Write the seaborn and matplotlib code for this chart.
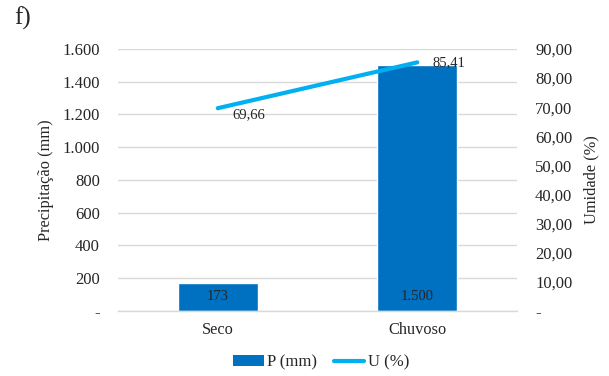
import matplotlib
matplotlib.use("Agg")
import matplotlib.pyplot as plt
from matplotlib.ticker import FuncFormatter, FixedLocator
from matplotlib.patches import Patch
from matplotlib.lines import Line2D
import seaborn as sns
import pandas as pd

# Season data
periodos = ["Seco", "Chuvoso"]
precipitacao = [173, 1500]        # P (mm)
umidade = [69.66, 85.41]          # U (%)
p_ticks = [0, 200, 400, 600, 800, 1000, 1200, 1400, 1600]
u_ticks = [0, 10, 20, 30, 40, 50, 60, 70, 80, 90]

BAR_COLOR = "#0070C0"
LINE_COLOR = "#00B0F0"
GRID_COLOR = "#D9D9D9"
TEXT_COLOR = "#262626"

sns.set_theme(style="white")
plt.rcParams["font.family"] = ["Liberation Serif", "DejaVu Serif"]
plt.rcParams["text.color"] = TEXT_COLOR
plt.rcParams["axes.labelcolor"] = TEXT_COLOR
plt.rcParams["xtick.color"] = TEXT_COLOR
plt.rcParams["ytick.color"] = TEXT_COLOR

TICK_FS = 12
LABEL_FS = 11.8
VALUE_FS = 10.5

df = pd.DataFrame({"Periodo": periodos, "P": precipitacao, "U": umidade})

fig = plt.figure(figsize=(6.09, 3.76), dpi=100)
ax = fig.add_axes([0.1938, 0.1729, 0.6552, 0.6968])

sns.barplot(data=df, x="Periodo", y="P", color=BAR_COLOR, saturation=1,
            width=0.4, ax=ax, zorder=2)
ax.set_xlim(-0.5, 1.5)
ax.set_ylim(0, 1600)
ax.yaxis.set_major_locator(FixedLocator(p_ticks))


def fmt_p(v, pos=None):
    if v == 0:
        return "-"
    return f"{int(round(v)):,}".replace(",", ".")


def fmt_u(v, pos=None):
    if v == 0:
        return "-"
    return f"{v:.2f}".replace(".", ",")


ax.yaxis.set_major_formatter(FuncFormatter(fmt_p))
ax.grid(axis="y", color=GRID_COLOR, linewidth=1, zorder=0)
ax.set_axisbelow(True)
for s in ["top", "right", "left"]:
    ax.spines[s].set_visible(False)
ax.spines["bottom"].set_color(GRID_COLOR)
ax.spines["bottom"].set_linewidth(1)
ax.tick_params(axis="both", length=0, labelsize=TICK_FS)
ax.tick_params(axis="y", pad=13)
ax.tick_params(axis="x", pad=8, labelsize=LABEL_FS)
ax.set_xlabel("")
ax.set_ylabel("Precipitação (mm)", fontsize=LABEL_FS, labelpad=6)

# Bar value labels, inside the base of each bar
for i, v in enumerate(precipitacao):
    ax.text(i, 90, fmt_p(v), ha="center", va="center",
            fontsize=VALUE_FS, color=TEXT_COLOR, zorder=5)

ax2 = ax.twinx()
sns.lineplot(x=[0, 1], y=umidade, color=LINE_COLOR, linewidth=3,
             ax=ax2, zorder=4, solid_capstyle="round")
ax2.set_ylim(0, 90)
ax2.set_xlim(-0.5, 1.5)
ax2.yaxis.set_major_locator(FixedLocator(u_ticks))
ax2.yaxis.set_major_formatter(FuncFormatter(fmt_u))
for s in ["top", "right", "left", "bottom"]:
    ax2.spines[s].set_visible(False)
ax2.tick_params(axis="y", length=0, labelsize=TICK_FS, pad=13)
ax2.set_ylabel("Umidade (%)", fontsize=LABEL_FS, labelpad=8)

# Humidity value labels, to the right of each point
ax2.text(0.075, umidade[0], fmt_u(umidade[0]), ha="left", va="top",
         fontsize=VALUE_FS, color=TEXT_COLOR)
ax2.text(1.075, umidade[1], fmt_u(umidade[1]), ha="left", va="center",
         fontsize=VALUE_FS, color=TEXT_COLOR)

fig.text(0.024, 0.952, "f)", fontsize=18, ha="left", va="center")

handles = [Patch(facecolor=BAR_COLOR, edgecolor="none"),
           Line2D([0], [0], color=LINE_COLOR, linewidth=3)]
fig.legend(handles, ["P (mm)", "U (%)"], loc="center", ncol=2,
           bbox_to_anchor=(0.527, 0.037), frameon=False, fontsize=TICK_FS,
           handlelength=1.85, handleheight=0.6, columnspacing=1.0,
           handletextpad=0.2)

fig.savefig("out.png", dpi=100)
